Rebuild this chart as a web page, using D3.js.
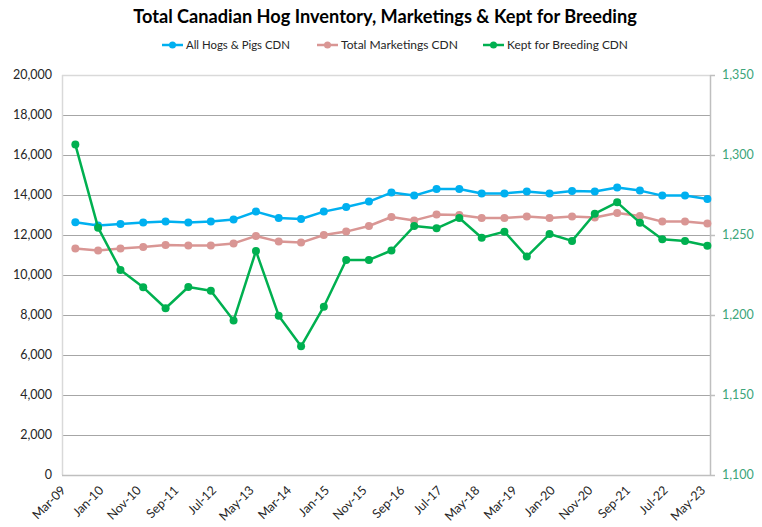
<!DOCTYPE html>
<html><head><meta charset="utf-8">
<script src="https://cdn.jsdelivr.net/npm/d3@7"></script>
<style>body{margin:0;background:#fff} svg{display:block} text{font-family:Lato,"Open Sans",sans-serif}</style>
</head><body><svg id="c" width="762" height="527"></svg>
<script>
const periods = ["Jul-09","Jan-10","Jul-10","Jan-11","Jul-11","Jan-12","Jul-12","Jan-13","Jul-13","Jan-14","Jul-14","Jan-15","Jul-15","Jan-16","Jul-16","Jan-17","Jul-17","Jan-18","Jul-18","Jan-19","Jul-19","Jan-20","Jul-20","Jan-21","Jul-21","Jan-22","Jul-22","Jan-23","Jul-23"];
const allHogs = [12640,12470,12550,12630,12680,12630,12670,12770,13170,12850,12800,13170,13400,13670,14120,13970,14300,14300,14080,14080,14170,14080,14200,14170,14380,14220,13970,13970,13800];
const marketings = [11320,11230,11320,11400,11500,11470,11470,11580,11950,11670,11620,12000,12170,12450,12900,12730,13020,13000,12850,12850,12930,12850,12930,12880,13100,12950,12670,12670,12570];
const breeding = [1306.5,1254.6,1228.1,1217.3,1204.2,1217.5,1215.2,1196.5,1240.0,1199.6,1180.4,1205.2,1234.4,1234.4,1240.3,1255.6,1254.2,1260.6,1248.3,1252.1,1236.5,1250.6,1246.3,1263.3,1270.4,1257.7,1247.3,1246.3,1243.3];
const xTickLabels = ["Mar-09","Jan-10","Nov-10","Sep-11","Jul-12","May-13","Mar-14","Jan-15","Nov-15","Sep-16","Jul-17","May-18","Mar-19","Jan-20","Nov-20","Sep-21","Jul-22","May-23"];
const leftTicks = [0,2000,4000,6000,8000,10000,12000,14000,16000,18000,20000];
const rightTicks = [1100,1150,1200,1250,1300,1350];
const seriesNames = ["All Hogs & Pigs CDN","Total Marketings CDN","Kept for Breeding CDN"];
const colors = ["#00B0F0","#D99694","#00B050"];
const title = "Total Canadian Hog Inventory, Marketings & Kept for Breeding";

const svg = d3.select("#c");
const L = 62, R = 710, T = 75, B = 475;
const parse = d3.timeParse("%b-%y");
const dates = periods.map(parse);
const axisStart = new Date(2009, 2, 15), axisEnd = new Date(2023, 6, 22);
const x = d3.scaleTime().domain([axisStart, axisEnd]).range([L, R]);
const y = d3.scaleLinear().domain([0, 20000]).range([B, T]);
const y2 = d3.scaleLinear().domain([1100, 1350]).range([B, T]);

// gridlines
svg.append("g").selectAll("line").data(leftTicks.filter(d => d > 0 && d < 20000)).join("line")
  .attr("x1", L).attr("x2", R).attr("y1", d => Math.round(y(d)) + 0.5).attr("y2", d => Math.round(y(d)) + 0.5)
  .attr("stroke", "#a6a6a6").attr("stroke-width", 1);
// plot border top & left
svg.append("line").attr("x1", L).attr("x2", R).attr("y1", T + 0.5).attr("y2", T + 0.5).attr("stroke", "#d9d9d9").attr("stroke-width", 1.5);
svg.append("line").attr("x1", L + 0.5).attr("x2", L + 0.5).attr("y1", T).attr("y2", B).attr("stroke", "#d9d9d9").attr("stroke-width", 1.5);
// bottom axis
svg.append("line").attr("x1", L).attr("x2", R).attr("y1", B + 0.5).attr("y2", B + 0.5).attr("stroke", "#bfbfbf").attr("stroke-width", 1.5);
// right axis
svg.append("line").attr("x1", R + 0.5).attr("x2", R + 0.5).attr("y1", T).attr("y2", B).attr("stroke", "#bfbfbf").attr("stroke-width", 1.5);
svg.append("g").selectAll("line").data(rightTicks).join("line")
  .attr("x1", R).attr("x2", R + 5).attr("y1", d => Math.round(y2(d)) + 0.5).attr("y2", d => Math.round(y2(d)) + 0.5)
  .attr("stroke", "#bfbfbf").attr("stroke-width", 1.5);

// left tick labels
svg.append("g").selectAll("text").data(leftTicks).join("text")
  .attr("x", 52).attr("y", d => y(d)).attr("dy", "0.35em").attr("text-anchor", "end")
  .attr("font-size", 12.5).attr("fill", "#262626").text(d => d3.format(",")(d));
// right tick labels
svg.append("g").selectAll("text").data(rightTicks).join("text")
  .attr("x", 722).attr("y", d => y2(d)).attr("dy", "0.35em").attr("text-anchor", "start")
  .attr("font-size", 12.5).attr("fill", "#3ca57a").text(d => d3.format(",")(d));
// bottom tick labels
svg.append("g").selectAll("text").data(xTickLabels).join("text")
  .attr("transform", (d, i) => `translate(${x(d3.timeMonth.offset(axisStart, 10 * i)) + 4.5},491) rotate(-45)`)
  .attr("text-anchor", "end").attr("font-size", 12.5).attr("fill", "#262626").text(d => d);

// series
const series = [
  {vals: allHogs, ys: y, c: colors[0]},
  {vals: marketings, ys: y, c: colors[1]},
  {vals: breeding, ys: y2, c: colors[2]}
];
series.forEach(s => {
  const line = d3.line().x((d, i) => x(dates[i])).y(d => s.ys(d));
  svg.append("path").datum(s.vals).attr("d", line).attr("fill", "none")
    .attr("stroke", s.c).attr("stroke-width", 2.5).attr("stroke-linejoin", "round");
  svg.append("g").selectAll("circle").data(s.vals).join("circle")
    .attr("cx", (d, i) => x(dates[i])).attr("cy", d => s.ys(d)).attr("r", 4).attr("fill", s.c);
});

// title
const t = svg.append("text").attr("x", 385).attr("y", 23).attr("text-anchor", "middle")
  .attr("font-weight", "bold").attr("font-size", 17).attr("fill", "#000").text(title);
const tw = t.node().getComputedTextLength();
t.attr("font-size", 17 * 504 / tw);

// legend
const legX = [162, 317, 483];
const legTextW = [104, 117, 121];
seriesNames.forEach((n, i) => {
  const g = svg.append("g");
  g.append("line").attr("x1", legX[i]).attr("x2", legX[i] + 21).attr("y1", 45).attr("y2", 45)
    .attr("stroke", colors[i]).attr("stroke-width", 2.5);
  g.append("circle").attr("cx", legX[i] + 10.5).attr("cy", 45).attr("r", 3.5).attr("fill", colors[i]);
  const tx = g.append("text").attr("x", legX[i] + 24).attr("y", 45).attr("dy", "0.35em")
    .attr("font-size", 12).attr("fill", "#262626").text(n);
  const w = tx.node().getComputedTextLength();
  tx.attr("font-size", 12 * legTextW[i] / w);
});
</script></body></html>
